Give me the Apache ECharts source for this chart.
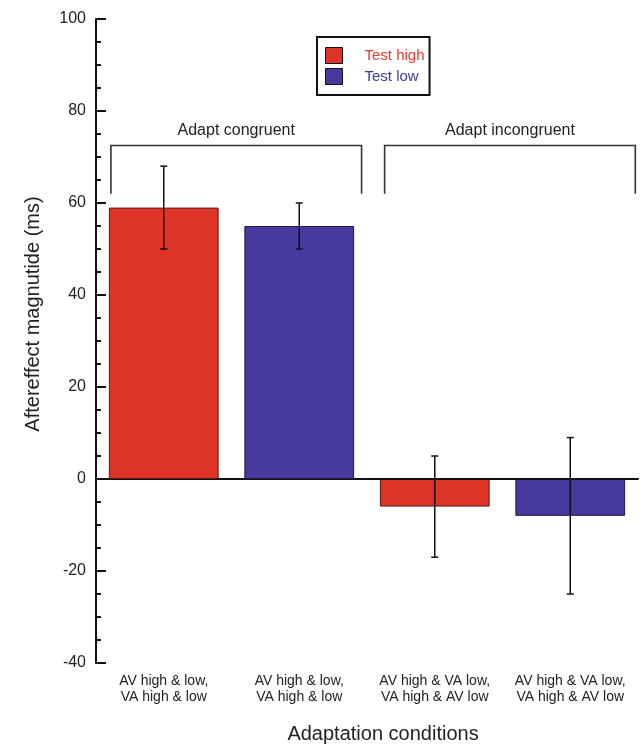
<!DOCTYPE html>
<html>
<head>
<meta charset="utf-8">
<script src="https://cdn.jsdelivr.net/npm/echarts@6/dist/echarts.min.js"></script>
<style>
html,body{margin:0;padding:0;background:#fff;}
#chart{width:643px;height:749px;}
</style>
</head>
<body>
<div id="chart"></div>
<script>
var categories = [
  'AV high & low,\nVA high & low',
  'AV high & low,\nVA high & low',
  'AV high & VA low,\nVA high & AV low',
  'AV high & VA low,\nVA high & AV low'
];
var testHigh = [59, null, -6, null];
var testLow = [null, 55, null, -8];
var errLow = [50, 50, -17, -25];
var errHigh = [68, 60, 5, 9];
var bracketLabels = ['Adapt congruent', 'Adapt incongruent'];
var bracketStart = [-0.39, 1.63];
var bracketEnd = [1.46, 3.48];
var bracketTop = 72.5;
var bracketBottom = 62;
var bracketLabelY = 75.7;
var yTicks = {min: -40, max: 100, interval: 20};

var errData = errLow.map(function (lo, i) { return [i, lo, errHigh[i]]; });
var bracketData = bracketLabels.map(function (name, i) {
  return {value: [bracketStart[i], bracketEnd[i], bracketTop, bracketBottom, bracketLabelY], name: name};
});

function posX(api, v, y) {
  var base = Math.round(v);
  var c = api.coord([base, y]);
  var band = api.size([1, 0])[0];
  return c[0] + (v - base) * band;
}

var chart = echarts.init(document.getElementById('chart'), null, {renderer: 'canvas'});
chart.setOption({
  animation: false,
  backgroundColor: '#fff',
  grid: {left: 96, right: 5, top: 19, bottom: 80, containLabel: false},
  legend: {
    left: 317, top: 37,
    orient: 'vertical',
    itemWidth: 17, itemHeight: 16, itemGap: 4,
    padding: [10, 5, 10, 8],
    borderColor: '#111', borderWidth: 2, backgroundColor: '#fff',
    icon: 'rect',
    itemStyle: {borderColor: '#111', borderWidth: 1},
    data: [
      {name: 'Test high', textStyle: {color: '#E43A2E'}},
      {name: 'Test low', textStyle: {color: '#3F3AA0'}}
    ],
    textStyle: {fontFamily: 'Liberation Sans, Arial', fontSize: 15, padding: [0, 0, 0, 17]}
  },
  xAxis: {
    type: 'category',
    data: categories,
    boundaryGap: true,
    axisLine: {lineStyle: {color: '#111', width: 2}},
    axisTick: {inside: true, length: 9, lineStyle: {color: '#111', width: 2}},
    axisLabel: {color: '#222', fontSize: 14, lineHeight: 16, margin: 10, fontFamily: 'Liberation Sans, Arial', interval: 0},
    name: 'Adaptation conditions',
    nameLocation: 'middle',
    nameGap: 61,
    nameTextStyle: {color: '#222', fontSize: 20, fontFamily: 'Liberation Sans, Arial', padding: [0, 0, 0, 32]}
  },
  yAxis: {
    type: 'value',
    min: yTicks.min, max: yTicks.max, interval: yTicks.interval,
    axisLine: {show: true, lineStyle: {color: '#111', width: 2}},
    axisTick: {show: true, inside: true, length: 10, lineStyle: {color: '#111', width: 2}},
    minorTick: {show: true, splitNumber: 4, length: 5, lineStyle: {color: '#111', width: 2}},
    splitLine: {show: false},
    axisLabel: {color: '#222', fontSize: 16, margin: 10, fontFamily: 'Liberation Sans, Arial'},
    name: 'Aftereffect magnutide (ms)',
    nameLocation: 'middle',
    nameRotate: 90,
    nameGap: 53,
    nameTextStyle: {color: '#222', fontSize: 20, fontFamily: 'Liberation Sans, Arial', padding: [0, 0, 0, 54]}
  },
  series: [
    {
      name: 'Test high', type: 'bar', data: testHigh,
      barWidth: '81%', barGap: '-100%',
      itemStyle: {color: '#DE3327', borderColor: '#5a1a14', borderWidth: 1},
      markLine: {
        silent: true, symbol: 'none', label: {show: false},
        lineStyle: {color: '#111', width: 1.2, type: 'solid'},
        data: [{yAxis: 0}]
      }
    },
    {
      name: 'Test low', type: 'bar', data: testLow,
      barWidth: '81%', barGap: '-100%',
      itemStyle: {color: '#463A9F', borderColor: '#1d1745', borderWidth: 1}
    },
    {
      type: 'custom', name: 'err', data: errData, z: 5,
      renderItem: function (params, api) {
        var x = api.value(0);
        var lo = api.coord([x, api.value(1)]);
        var hi = api.coord([x, api.value(2)]);
        var w = 3.5;
        var st = {stroke: '#111', lineWidth: 1.5};
        return {type: 'group', children: [
          {type: 'line', shape: {x1: lo[0], y1: lo[1], x2: hi[0], y2: hi[1]}, style: st},
          {type: 'line', shape: {x1: lo[0] - w, y1: lo[1], x2: lo[0] + w, y2: lo[1]}, style: st},
          {type: 'line', shape: {x1: hi[0] - w, y1: hi[1], x2: hi[0] + w, y2: hi[1]}, style: st}
        ]};
      }
    },
    {
      type: 'custom', name: 'brackets', data: bracketData, z: 5,
      renderItem: function (params, api) {
        var x1 = posX(api, api.value(0), 0);
        var x2 = posX(api, api.value(1), 0);
        var yt = api.coord([0, api.value(2)])[1];
        var yb = api.coord([0, api.value(3)])[1];
        var yl = api.coord([0, api.value(4)])[1];
        var name = bracketData[params.dataIndex].name;
        return {type: 'group', children: [
          {type: 'polyline', shape: {points: [[x1, yb], [x1, yt], [x2, yt], [x2, yb]]},
           style: {stroke: '#333', lineWidth: 1.6, fill: null}},
          {type: 'text', x: (x1 + x2) / 2, y: yl,
           style: {text: name, fill: '#222', font: '16px "Liberation Sans", Arial', align: 'center', verticalAlign: 'middle'}}
        ]};
      }
    }
  ]
});
</script>
</body>
</html>
